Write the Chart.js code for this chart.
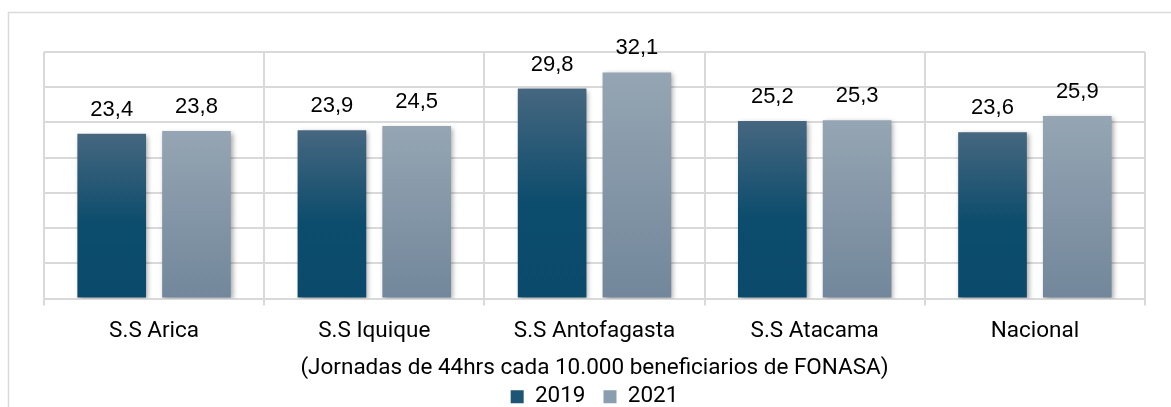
<!DOCTYPE html>
<html>
<head>
<meta charset="utf-8">
<script src="https://cdn.jsdelivr.net/npm/chart.js@4.4.1/dist/chart.umd.min.js"></script>
<style>
  html, body { margin: 0; padding: 0; background: #fff; }
  #wrap { width: 1171px; height: 407px; position: relative; }
</style>
</head>
<body>
<div id="wrap"><canvas id="jornadasChart"></canvas></div>
<script>
// data
const categories = ['S.S Arica', 'S.S Iquique', 'S.S Antofagasta', 'S.S Atacama', 'Nacional'];
const values2019 = [23.4, 23.9, 29.8, 25.2, 23.6];
const values2021 = [23.8, 24.5, 32.1, 25.3, 25.9];
const seriesLabels = ['2019', '2021'];
const axisTitle = '(Jornadas de 44hrs cada 10.000 beneficiarios de FONASA)';

const fmt = v => v.toFixed(1).replace('.', ',');
const textFont = 'Roboto, "Liberation Sans", sans-serif';

// vertical gradient per bar, light at top
function barGradient(top, bottom, mid) {
    return function(context) {
        const chart = context.chart;
        const { ctx, chartArea, scales } = chart;
        if (!chartArea || !scales.y || context.parsed == null) return bottom;
        const yTop = scales.y.getPixelForValue(context.parsed.y);
        const yBot = scales.y.getPixelForValue(0);
        if (!isFinite(yTop) || yTop >= yBot) return bottom;
        const g = ctx.createLinearGradient(0, yTop, 0, yBot);
        g.addColorStop(0, top);
        if (mid) g.addColorStop(0.55, mid);
        g.addColorStop(1, bottom);
        return g;
    };
}

const frame = {
    id: 'frame',
    beforeDraw(chart) {
        const ctx = chart.ctx;
        ctx.save();
        ctx.strokeStyle = '#d9d9d9';
        ctx.lineWidth = 1.5;
        ctx.strokeRect(8.5, 12.5, 1200, 500);
        ctx.restore();
    }
};

const barShadow = {
    id: 'barShadow',
    beforeDatasetsDraw(chart) {
        const ctx = chart.ctx;
        ctx.save();
        ctx.shadowColor = 'rgba(0,0,0,0.35)';
        ctx.shadowBlur = 5;
        ctx.shadowOffsetX = 2;
        ctx.shadowOffsetY = 2;
    },
    afterDatasetsDraw(chart) {
        chart.ctx.restore();
    }
};

const valueLabels = {
    id: 'valueLabels',
    afterDraw(chart) {
        const ctx = chart.ctx;
        ctx.save();
        ctx.font = '22px "Liberation Sans", Arial, sans-serif';
        ctx.fillStyle = '#000';
        ctx.textAlign = 'center';
        ctx.textBaseline = 'alphabetic';
        chart.data.datasets.forEach((ds, i) => {
            chart.getDatasetMeta(i).data.forEach((bar, j) => {
                ctx.fillText(fmt(ds.data[j]), bar.x, bar.y - 18);
            });
        });
        ctx.restore();
    }
};

new Chart(document.getElementById('jornadasChart'), {
    type: 'bar',
    data: {
        labels: categories,
        datasets: [{
            label: seriesLabels[0],
            data: values2019,
            backgroundColor: barGradient('#466780', '#0b4a6a', '#0c4c6c')
        }, {
            label: seriesLabels[1],
            data: values2021,
            backgroundColor: barGradient('#95a5b3', '#72879b', null)
        }]
    },
    options: {
        responsive: true,
        maintainAspectRatio: false,
        animation: false,
        categoryPercentage: 0.77,
        barPercentage: 0.81,
        layout: { padding: { left: 44, right: 26, top: 52, bottom: -11 } },
        scales: {
            x: {
                grid: { offset: true, color: '#d9d9d9', lineWidth: 2, tickLength: 7 },
                border: { color: '#d9d9d9', width: 2 },
                ticks: {
                    color: '#000',
                    padding: 12,
                    font: { family: textFont, size: 22.5 }
                },
                title: {
                    display: true,
                    text: axisTitle,
                    color: '#000',
                    padding: { top: -2, bottom: -14 },
                    font: { family: textFont, size: 22.5 }
                }
            },
            y: {
                min: 0,
                max: 35,
                ticks: { display: false, stepSize: 5 },
                grid: { color: '#d9d9d9', lineWidth: 2, drawTicks: false },
                border: { display: false }
            }
        },
        plugins: {
            legend: {
                position: 'bottom',
                labels: {
                    color: '#000',
                    boxWidth: 13,
                    boxHeight: 13,
                    padding: 18,
                    font: { family: textFont, size: 22.5 },
                    generateLabels(chart) {
                        const fills = ['#1d5575', '#8b9eb0'];
                        return chart.data.datasets.map((ds, i) => ({
                            text: ds.label,
                            fillStyle: fills[i],
                            strokeStyle: fills[i],
                            lineWidth: 0,
                            fontColor: '#000',
                            datasetIndex: i
                        }));
                    }
                }
            },
            tooltip: { enabled: false }
        }
    },
    plugins: [frame, barShadow, valueLabels]
});
</script>
</body>
</html>
